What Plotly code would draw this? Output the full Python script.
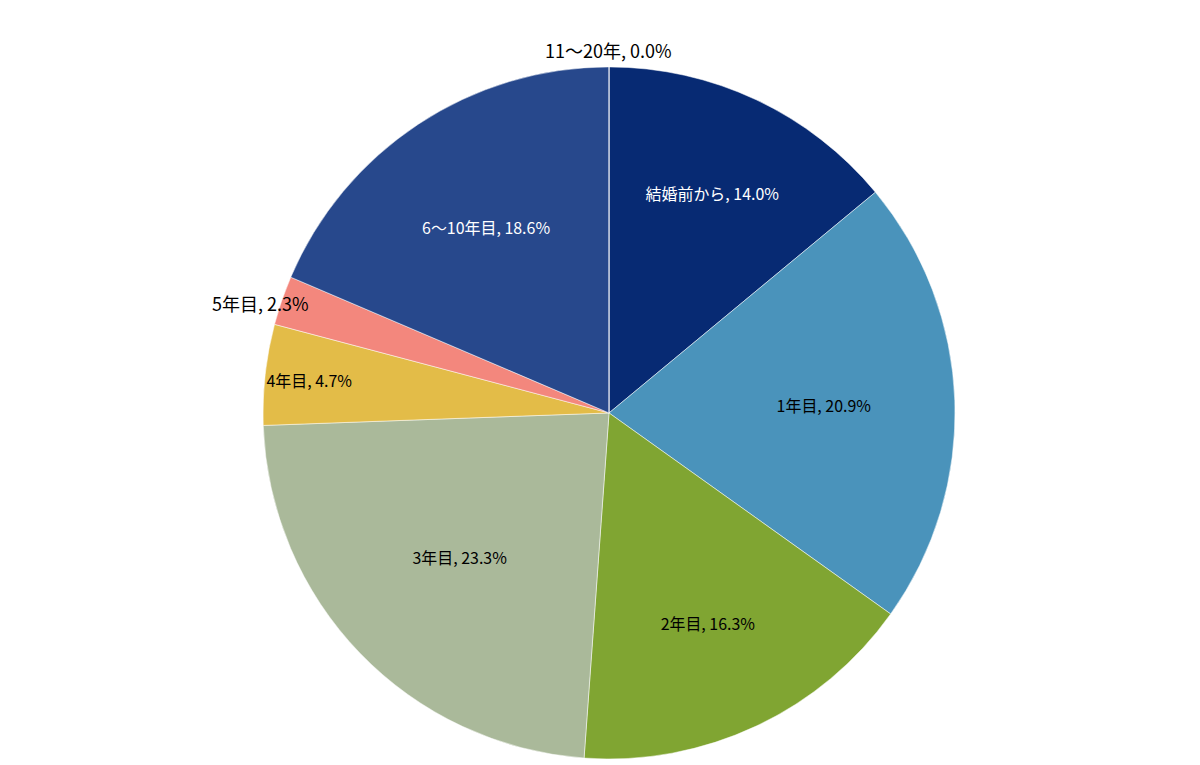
import plotly.graph_objects as go

labels = ["結婚前から", "1年目", "2年目", "3年目", "4年目", "5年目", "6〜10年目", "11〜20年"]
values = [14.0, 20.9, 16.3, 23.3, 4.7, 2.3, 18.6, 0.0]
colors = ["#072a73", "#4a93bb", "#80a532", "#aab99a", "#e3bc48", "#f3877d", "#27488c", "#5b7fbf"]
text_colors = ["white", "black", "black", "black", "black", "black", "white", "black"]
outside = ["5年目", "11〜20年"]

texts = ["" if l in outside else f"{l}, {v:.1f}%" for l, v in zip(labels, values)]

fig = go.Figure(go.Pie(
    labels=labels, values=values, sort=False, direction="clockwise", rotation=0,
    marker=dict(colors=colors, line=dict(color="white", width=0.5)),
    text=texts, textinfo="text", textposition="inside",
    insidetextorientation="horizontal",
    textfont=dict(color=text_colors, size=18, family="Noto Sans CJK JP"),
    domain=dict(x=[0.2125, 0.7892], y=[0.0183, 0.923]),
    showlegend=False,
))

# small slices labelled outside, without leader lines
pos = {"5年目": (0.168, 0.615), "11〜20年": (0.5, 0.965)}
for l, v in zip(labels, values):
    if l in outside:
        x, y = pos[l]
        fig.add_annotation(x=x, y=y, xref="paper", yref="paper", showarrow=False,
                           text=f"{l}, {v:.1f}%", font=dict(size=18, color="black", family="Noto Sans CJK JP"))

fig.update_layout(width=1200, height=765, margin=dict(l=0, r=0, t=0, b=0),
                  paper_bgcolor="white", plot_bgcolor="white", uniformtext=dict(minsize=14, mode="show"))
fig.write_html("out.html")
